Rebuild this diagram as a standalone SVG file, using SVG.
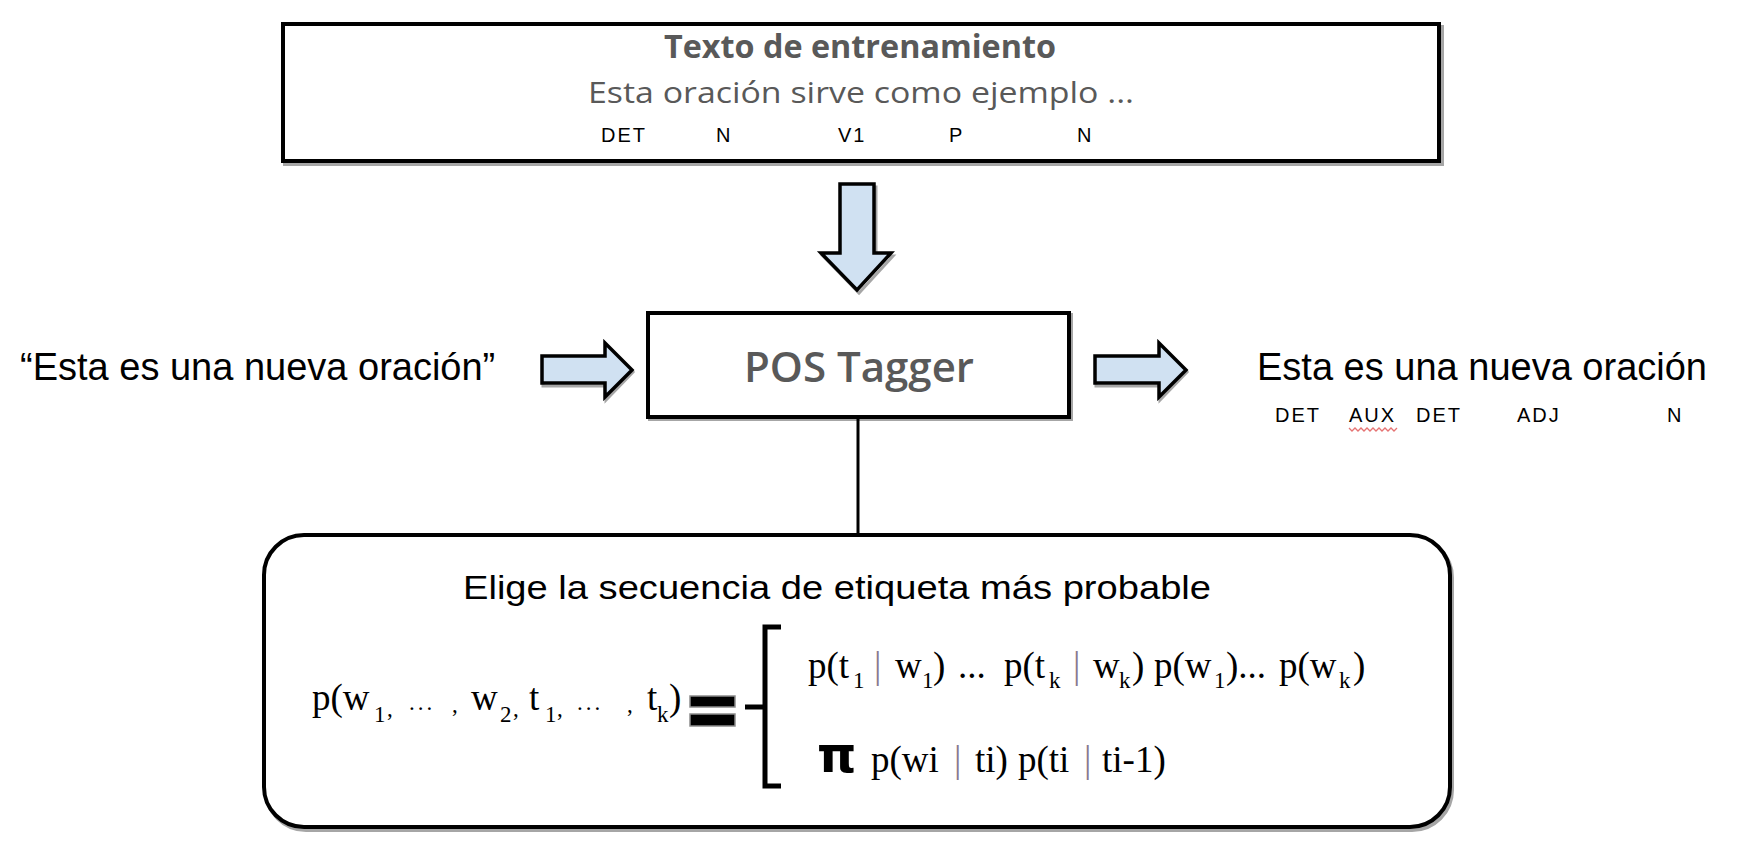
<svg xmlns="http://www.w3.org/2000/svg" width="1740" height="847" viewBox="0 0 1740 847">
<style>
.box{fill:#ffffff;stroke:#000000;stroke-width:4}
.shadow{fill:none;stroke:#a6a6a6;stroke-width:4}
.arrow{fill:#d0e1f2;stroke:#000000;stroke-width:3.5;stroke-linejoin:miter}
.ashadow{fill:none;stroke:#a6a6a6;stroke-width:3}
.cal{font-family:"Open Sans","Liberation Sans",sans-serif;fill:#595959}
.ar{font-family:"Liberation Sans",Arial,sans-serif;fill:#000000}
.tag{font-family:"Liberation Sans",Arial,sans-serif;fill:#000000;font-size:20px;letter-spacing:2px}
.tm{font-family:"Liberation Serif","Times New Roman",serif;fill:#000000;font-size:37px}
.sub{font-size:23px}
.bar{fill:#8a7a8e}
</style>

<g id="training-text">
<rect class="shadow" x="285" y="27" width="1157" height="137"/>
<rect class="box" x="283" y="24" width="1156" height="137"/>
<text class="cal" x="664" y="58" font-size="32" font-weight="700" textLength="392" lengthAdjust="spacingAndGlyphs">Texto de entrenamiento</text>
<text class="cal" x="588" y="103" font-size="30" textLength="546" lengthAdjust="spacingAndGlyphs">Esta oración sirve como ejemplo ...</text>
<text class="tag" x="601" y="142">DET</text>
<text class="tag" x="716" y="142">N</text>
<text class="tag" x="838" y="142">V1</text>
<text class="tag" x="949" y="142">P</text>
<text class="tag" x="1077" y="142">N</text>
</g>

<g id="pos-tagger">
<rect class="shadow" x="650" y="315" width="421" height="104"/>
<rect class="box" x="648" y="313" width="421" height="104"/>
<text class="cal" x="744" y="382" font-size="42" font-weight="600" textLength="230" lengthAdjust="spacingAndGlyphs">POS Tagger</text>
</g>

<g id="input-sentence">
<text class="ar" x="20" y="380" font-size="38">“Esta es una nueva oración”</text>
</g>

<g id="output-sentence">
<text class="ar" x="1257" y="380" font-size="38">Esta es una nueva oración</text>
<text class="tag" x="1275" y="422" font-size="21">DET</text>
<text class="tag" x="1349" y="422" font-size="21">AUX</text>
<text class="tag" x="1416" y="422" font-size="21">DET</text>
<text class="tag" x="1517" y="422" font-size="21">ADJ</text>
<text class="tag" x="1667" y="422" font-size="21">N</text>
<path d="M1349 428 l3 3 l3 -3 l3 3 l3 -3 l3 3 l3 -3 l3 3 l3 -3 l3 3 l3 -3 l3 3 l3 -3 l3 3 l3 -3 l3 3 l3 -3" fill="none" stroke="#e57373" stroke-width="1.3"/>
</g>

<g id="model-box">
<rect class="shadow" x="266" y="538" width="1186" height="292" rx="40" ry="40"/>
<rect class="box" x="264" y="535" width="1186" height="292" rx="40" ry="40"/>
<text class="ar" x="463" y="599" font-size="33" fill="#111" textLength="748" lengthAdjust="spacingAndGlyphs">Elige la secuencia de etiqueta más probable</text>

<text class="tm" y="710"><tspan x="312">p(w</tspan><tspan class="sub" x="374" y="722">1</tspan><tspan class="sub" x="387" y="716">,</tspan><tspan class="sub" x="409" y="710" letter-spacing="3">...</tspan><tspan class="sub" x="452" y="712">,</tspan><tspan x="471" y="710">w</tspan><tspan class="sub" x="500" y="722">2</tspan><tspan class="sub" x="513" y="716">,</tspan><tspan x="529" y="710">t</tspan><tspan class="sub" x="545" y="722">1</tspan><tspan class="sub" x="557" y="716">,</tspan><tspan class="sub" x="577" y="710" letter-spacing="3">...</tspan><tspan class="sub" x="627" y="712">,</tspan><tspan x="647" y="710">t</tspan><tspan class="sub" x="657" y="722">k</tspan><tspan x="669" y="710">)</tspan></text>

<rect x="690" y="696" width="45" height="11" fill="#000" stroke="#8c8c8c" stroke-width="1.5"/>
<rect x="690" y="714" width="45" height="12" fill="#000" stroke="#8c8c8c" stroke-width="1.5"/>
<path d="M781 627 L765 627 L765 786 L781 786 M745 707 L765 707" fill="none" stroke="#000" stroke-width="5"/>

<text class="tm" y="678"><tspan x="808">p(t</tspan><tspan class="sub" x="853" y="688">1</tspan><tspan class="bar" x="874" y="678">|</tspan><tspan x="895" y="678">w</tspan><tspan class="sub" x="922" y="688">1</tspan><tspan x="933" y="678">)</tspan><tspan x="958" y="678">...</tspan><tspan x="1004" y="678">p(t</tspan><tspan class="sub" x="1049" y="688">k</tspan><tspan class="bar" x="1073" y="678">|</tspan><tspan x="1093" y="678">w</tspan><tspan class="sub" x="1119" y="688">k</tspan><tspan x="1132" y="678">)</tspan><tspan x="1154" y="678">p(w</tspan><tspan class="sub" x="1214" y="688">1</tspan><tspan x="1226" y="678">)...</tspan><tspan x="1279" y="678">p(w</tspan><tspan class="sub" x="1339" y="688">k</tspan><tspan x="1353" y="678">)</tspan></text>

<text x="817" y="772" font-family="'DejaVu Sans','Liberation Sans',sans-serif" font-weight="700" font-size="50" fill="#000">π</text>
<text class="tm" y="772"><tspan x="871">p(wi</tspan><tspan class="bar" x="954">|</tspan><tspan x="975">ti)</tspan><tspan x="1018">p(ti</tspan><tspan class="bar" x="1084">|</tspan><tspan x="1102">ti-1)</tspan></text>
</g>

<g id="connectors">
<polygon class="ashadow" points="841,187 876,187 876,256 893,256 859,293 823,256 841,256"/>
<polygon class="arrow" points="840,184 874,184 874,253 891,253 857,290 821,253 840,253"/>
<polygon class="ashadow" points="543,358 606,358 606,346 633,372 606,400 606,386 543,386"/>
<polygon class="arrow" points="542,356 605,356 605,343 632,370 605,397 605,383 542,383"/>
<polygon class="ashadow" points="1096,358 1160,358 1160,346 1187,372 1160,400 1160,386 1096,386"/>
<polygon class="arrow" points="1095,356 1159,356 1159,343 1186,370 1159,397 1159,383 1095,383"/>
<line x1="858" y1="417" x2="858" y2="535" stroke="#000" stroke-width="3"/>
</g>
</svg>
